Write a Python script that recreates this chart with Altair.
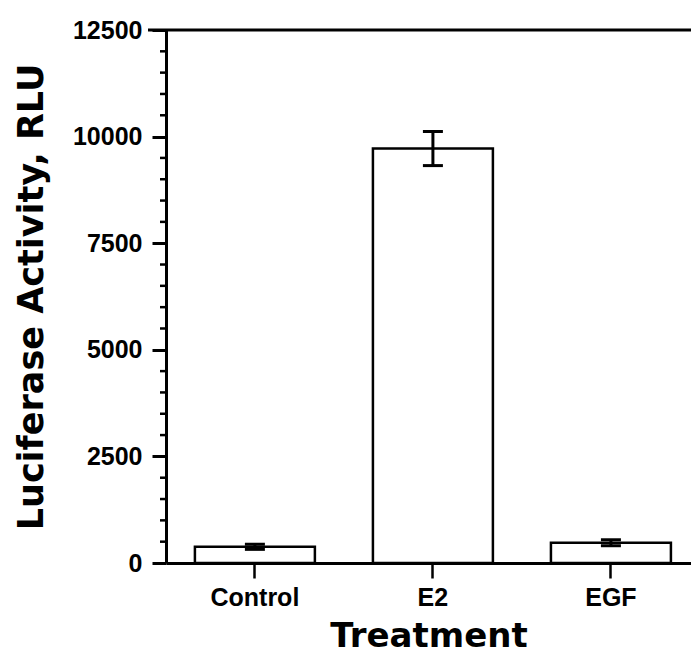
import altair as alt
import pandas as pd

treatments = ["Control", "E2", "EGF"]
activity = [380, 9720, 475]
error = [60, 400, 70]

major_ticks = [0, 2500, 5000, 7500, 10000, 12500]
minor_ticks = [500, 1000, 1500, 2000, 3000, 3500, 4000, 4500, 5500, 6000, 6500, 7000,
               8000, 8500, 9000, 9500, 10500, 11000, 11500, 12000]

W = 525
H = 533

df = pd.DataFrame({"Treatment": treatments, "RLU": activity, "err": error})
df["lo"] = df["RLU"] - df["err"]
df["hi"] = df["RLU"] + df["err"]
df_minor = pd.DataFrame({"v": minor_ticks})

xscale = alt.Scale(domain=treatments, paddingInner=0.326, paddingOuter=0.1376, align=0.59)
yscale = alt.Scale(domain=[0, 12500], nice=False, zero=True)

x_axis = alt.Axis(
    title="Treatment", labelAngle=0, labelFont="Liberation Sans", labelFontWeight="bold",
    labelFontSize=25, labelColor="black", labelPadding=7,
    tickSize=15, tickWidth=2.5, tickColor="black",
    domainWidth=3, domainColor="black",
    titleFont="DejaVu Sans", titleFontWeight="bold", titleFontSize=34, titleColor="black",
    titleBaseline="alphabetic", titleY=83,
)
y_axis = alt.Axis(
    title="Luciferase Activity, RLU", values=major_ticks, format="d", grid=False,
    labelFont="Liberation Sans", labelFontWeight="bold", labelFontSize=25, labelColor="black",
    labelPadding=10, tickSize=14, tickWidth=3, tickColor="black",
    domainWidth=3, domainColor="black",
    titleFont="DejaVu Sans", titleFontWeight="bold", titleFontSize=35, titleColor="black",
    titleBaseline="alphabetic", titleX=-124, titleY=H / 2, titleAngle=270,
)

base = alt.Chart(df)

bars = base.mark_bar(fill="white", stroke="black", strokeWidth=2.5).encode(
    x=alt.X("Treatment:N", scale=xscale, axis=x_axis, sort=treatments),
    y=alt.Y("RLU:Q", scale=yscale, axis=y_axis),
)

err_line = base.mark_rule(color="black", strokeWidth=3).encode(
    x=alt.X("Treatment:N", scale=xscale, sort=treatments),
    y="lo:Q",
    y2="hi:Q",
)
cap_hi = base.mark_tick(color="black", thickness=3, size=20, opacity=1).encode(
    x=alt.X("Treatment:N", scale=xscale, sort=treatments),
    y="hi:Q",
)
cap_lo = base.mark_tick(color="black", thickness=3, size=20, opacity=1).encode(
    x=alt.X("Treatment:N", scale=xscale, sort=treatments),
    y="lo:Q",
)

minor = alt.Chart(df_minor).mark_rule(color="black", strokeWidth=2.5).encode(
    y="v:Q",
    x=alt.value(-6),
    x2=alt.value(0),
)

top_line = alt.Chart(pd.DataFrame({"v": [12500]})).mark_rule(color="black", strokeWidth=3).encode(
    y="v:Q",
    x=alt.value(-18),
    x2=alt.value(W),
)

chart = alt.layer(bars, err_line, cap_hi, cap_lo, minor, top_line).properties(
    width=W, height=H,
    autosize="none",
    padding={"left": 158, "top": 22, "right": 0, "bottom": 93},
).configure_view(stroke=None).configure_axis(grid=False)

chart.save("out.html", embed_options={"renderer": "svg", "actions": False})
